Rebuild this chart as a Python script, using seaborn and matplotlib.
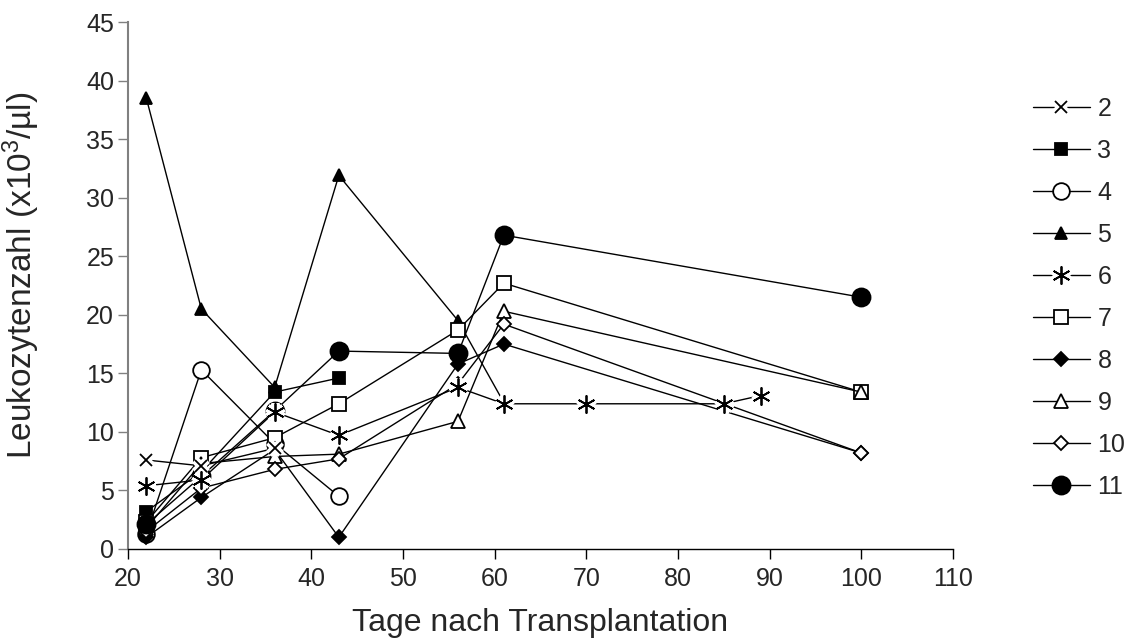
import matplotlib
matplotlib.use("Agg")
import matplotlib.pyplot as plt
import seaborn as sns
import numpy as np
import pandas as pd
from matplotlib.legend_handler import HandlerTuple

# days after transplantation and leukocyte counts per patient
days_2 = [22, 28, 36]
leuko_2 = [7.6, 7.1, 8.6]
days_3 = [22, 28, 36, 43]
leuko_3 = [3.2, 6.6, 13.4, 14.6]
days_4 = [22, 28, 36, 43]
leuko_4 = [1.3, 15.3, 9.0, 4.5]
days_5 = [22, 28, 36, 43, 56, 61]
leuko_5 = [38.5, 20.5, 13.8, 31.9, 19.5, 12.5]
days_6 = [22, 28, 36, 43, 56, 61, 70, 85, 89]
leuko_6 = [5.4, 5.9, 11.7, 9.7, 13.8, 12.4, 12.4, 12.4, 13.1]
days_7 = [22, 28, 36, 43, 56, 61, 100]
leuko_7 = [2.3, 7.8, 9.5, 12.4, 18.7, 22.7, 13.4]
days_8 = [22, 28, 36, 43, 56, 61, 100]
leuko_8 = [1.0, 4.4, 8.5, 1.0, 15.8, 17.5, 8.2]
days_9 = [22, 28, 36, 43, 56, 61, 100]
leuko_9 = [1.8, 7.3, 7.9, 8.1, 10.9, 20.3, 13.4]
days_10 = [22, 28, 36, 43, 56, 61, 100]
leuko_10 = [1.5, 5.2, 6.8, 7.7, 14.1, 19.2, 8.2]
days_11 = [22, 28, 36, 43, 56, 61, 100]
leuko_11 = [2.1, 6.2, 11.8, 16.9, 16.7, 26.8, 21.5]

patients = ["2", "3", "4", "5", "6", "7", "8", "9", "10", "11"]
all_days = [days_2, days_3, days_4, days_5, days_6, days_7, days_8, days_9, days_10, days_11]
all_leuko = [leuko_2, leuko_3, leuko_4, leuko_5, leuko_6, leuko_7, leuko_8, leuko_9, leuko_10, leuko_11]

# marker, size, filled, line broken around marker
styles = {
    "2": ("x", 9, True, True),
    "3": ("s", 9, True, False),
    "4": ("o", 12, False, False),
    "5": ("^", 9, True, False),
    "6": ((6, 2, 0), 13, True, True),
    "7": ("s", 10, False, False),
    "8": ("D", 7, True, False),
    "9": ("^", 10, False, False),
    "10": ("D", 7, False, False),
    "11": ("o", 13, True, False),
}

df = pd.concat([pd.DataFrame({"day": d, "leuko": v, "patient": p})
                for p, d, v in zip(patients, all_days, all_leuko)], ignore_index=True)

sns.set_style("white")
plt.rcParams["font.family"] = ["Liberation Sans", "DejaVu Sans"]
plt.rcParams["mathtext.fontset"] = "custom"
plt.rcParams["mathtext.rm"] = "Liberation Sans"
plt.rcParams["mathtext.it"] = "Liberation Sans"

fig = plt.figure(figsize=(11.34, 6.43), dpi=100)
ax = fig.add_axes([128 / 1134, 1 - 549 / 643, (953 - 128) / 1134, (549 - 22) / 643])

handles = []
for p in patients:
    sub = df[df["patient"] == p]
    mk, ms, filled, gap = styles[p]
    fc = "black" if filled else "white"
    if gap:
        sns.lineplot(data=sub, x="day", y="leuko", ax=ax, color="black", lw=1.0,
                     estimator=None, sort=False, legend=False)
        ln = ax.lines[-1]
        wh, = ax.plot(sub["day"], sub["leuko"], ls="none", marker=mk, ms=ms,
                      mec="white", mew=6, zorder=3)
        bk, = ax.plot(sub["day"], sub["leuko"], ls="none", marker=mk, ms=ms,
                      mec="black", mew=1.3, zorder=4)
        handles.append((ln, wh, bk))
    else:
        sns.lineplot(data=sub, x="day", y="leuko", ax=ax, color="black", lw=1.0,
                     marker=mk, markersize=ms, markerfacecolor=fc,
                     markeredgecolor="black", markeredgewidth=1.3,
                     estimator=None, sort=False, legend=False)
        handles.append(ax.lines[-1])

ax.set_xlim(20, 110)
ax.set_ylim(0, 45)
ax.set_xticks(np.arange(20, 111, 10))
ax.set_yticks(np.arange(0, 46, 5))
ax.tick_params(axis="both", labelsize=18, direction="out", length=7, width=1,
               bottom=True, left=True, color="#808080", pad=3)
ax.tick_params(axis="x", color="black", pad=6)
for s in ["top", "right"]:
    ax.spines[s].set_visible(False)
ax.spines["left"].set_color("#808080")
ax.spines["left"].set_linewidth(1.5)
ax.spines["bottom"].set_color("black")
ax.spines["bottom"].set_linewidth(1.0)

ax.set_xlabel("Tage nach Transplantation", fontsize=23)
ax.set_ylabel(r"Leukozytenzahl (x10$^{3}$/µl)", fontsize=24)
ax.xaxis.set_label_coords(0.5, -0.112)
ax.yaxis.set_label_coords(-0.104, 0.52)

fig.legend(handles, patients, loc="upper left", bbox_to_anchor=(1020 / 1134, 1 - 84 / 643),
           frameon=False, fontsize=18, labelspacing=0.72, handlelength=2.3,
           handletextpad=0.3, borderpad=0,
           handler_map={tuple: HandlerTuple(ndivide=1, pad=0)})

fig.savefig("out.png", dpi=100)
